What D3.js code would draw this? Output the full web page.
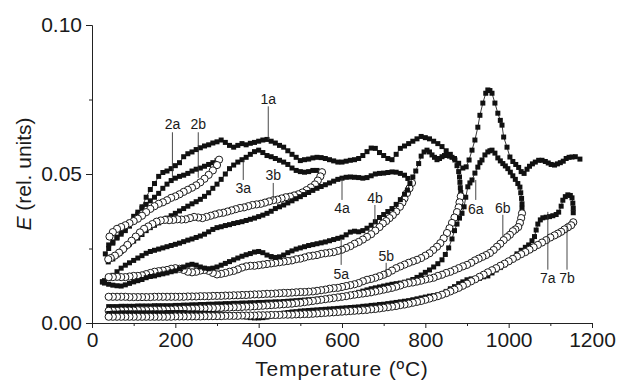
<!DOCTYPE html>
<html>
<head>
<meta charset="utf-8">
<script src="https://d3js.org/d3.v7.min.js"></script>
<style>
  body { margin: 0; background: #fff; }
  text { font-family: Arial, "Liberation Sans", sans-serif; fill: #1a1a1a; }
</style>
</head>
<body>
<svg id="chart" width="617" height="381"></svg>
<script>
// temperature (ºC), E (rel. units) pairs
// "a" curves = filled squares, "b" curves = open circles
var curve1a = [[40,.0262],[50,.0272],[60,.0285],[70,.0298],[80,.031],[90,.0325],[100,.0342],[110,.0365],[120,.039],[130,.0422],[140,.0448],[150,.0468],[160,.0492],[170,.0505],[180,.051],[190,.0518],[200,.0528],[210,.0538],[220,.0558],[230,.0568],[240,.0574],[250,.0582],[260,.0588],[270,.0594],[280,.0598],[290,.0604],[300,.0608],[310,.0614],[320,.0606],[330,.0596],[340,.059],[350,.0596],[360,.0602],[370,.0598],[380,.0603],[390,.0606],[400,.061],[410,.0614],[420,.0616],[430,.061],[440,.0604],[450,.0596],[460,.059],[470,.0578],[480,.0566],[490,.0556],[500,.0545],[510,.0548],[520,.055],[530,.0554],[540,.0556],[550,.0555],[560,.0552],[570,.0548],[580,.0544],[590,.054],[600,.054],[610,.0543],[620,.0546],[630,.0548],[640,.0552],[650,.0562],[660,.0575],[670,.0587],[680,.0586],[690,.0572],[700,.0562],[710,.0552],[720,.0548],[730,.0566],[740,.0586],[750,.0594],[760,.0602],[770,.061],[780,.0618],[790,.0626],[800,.0622],[810,.0618],[820,.061],[830,.0602],[840,.0592],[850,.0578],[860,.0566],[870,.0552],[880,.0536],[890,.052],[898,.0524],[905,.0547],[912,.058],[919,.0614],[926,.0657],[931,.0697],[938,.0738],[945,.0771],[950,.0782],[955,.078],[960,.0771],[967,.0738],[974,.0704],[980,.068],[984,.0664],[988,.0624],[996,.059],[1003,.0557],[1010,.0542],[1017,.0532],[1024,.0522],[1030,.0508],[1037,.0502],[1044,.0516],[1050,.0526],[1057,.0534],[1064,.054],[1072,.0546],[1080,.0546],[1088,.0542],[1095,.0537],[1102,.0532],[1110,.053],[1117,.0534],[1124,.0538],[1131,.0543],[1138,.0552],[1145,.0556],[1152,.0557],[1160,.0558],[1171,.055]];

var curve2a = [[32,.0232],[40,.025],[50,.0268],[60,.0288],[70,.0305],[80,.032],[90,.0338],[100,.0358],[110,.0372],[120,.0385],[130,.0398],[140,.041],[150,.0422],[160,.0435],[170,.0452],[180,.0466],[190,.0478],[200,.0486],[210,.0492],[220,.0496],[230,.0502],[240,.051],[250,.0516],[260,.052],[270,.0526],[280,.0532],[290,.0538],[300,.0545]];
var curve2b = [[305,.0548],[300,.053],[290,.0512],[280,.0497],[270,.0484],[260,.0472],[250,.0462],[240,.0454],[230,.0447],[220,.044],[210,.0432],[200,.0425],[190,.042],[180,.0412],[170,.0405],[160,.04],[150,.0392],[140,.0383],[130,.0372],[120,.036],[110,.035],[100,.0342],[90,.0335],[80,.0328],[70,.0322],[60,.0316],[50,.0305],[42,.029]];

var curve3a = [[39,.0205],[50,.0215],[60,.0228],[70,.024],[80,.0255],[90,.0265],[100,.0275],[110,.0285],[120,.0297],[130,.031],[140,.032],[150,.0328],[160,.0336],[170,.0345],[180,.0352],[190,.036],[200,.0368],[210,.0376],[220,.0384],[230,.0392],[240,.04],[250,.0407],[260,.0415],[270,.0425],[280,.0437],[290,.0452],[300,.0466],[310,.0482],[320,.05],[330,.0518],[340,.053],[350,.054],[360,.0548],[370,.0556],[380,.0566],[390,.0575],[400,.058],[410,.0572],[420,.0562],[430,.0558],[440,.0552],[450,.0546],[460,.054],[470,.0532],[480,.052],[490,.0512],[500,.0508],[510,.0506],[520,.0508],[530,.0512],[540,.0512],[550,.0502]];
var curve3b = [[552,.0506],[548,.0492],[542,.0478],[535,.0465],[525,.0455],[515,.0446],[505,.0438],[495,.0432],[485,.0428],[475,.0424],[465,.0422],[455,.0418],[445,.0414],[435,.0412],[425,.0408],[415,.0404],[405,.04],[395,.0398],[385,.0396],[375,.0392],[365,.0388],[355,.0386],[345,.0382],[335,.0378],[325,.0374],[315,.037],[305,.0368],[295,.0364],[285,.036],[275,.0356],[265,.0352],[255,.0354],[245,.0356],[235,.0352],[225,.0348],[215,.0347],[205,.0348],[195,.0346],[185,.0345],[175,.0346],[165,.0344],[155,.034],[145,.0332],[135,.0324],[125,.0316],[115,.0304],[105,.029],[95,.0276],[85,.0262],[75,.0248],[65,.0236],[55,.0226],[45,.0218],[39,.0214]];

var curve4a = [[25,.0138],[30,.0142],[40,.015],[50,.016],[60,.0172],[70,.0184],[80,.0194],[90,.0202],[100,.021],[110,.0218],[120,.0226],[130,.0234],[140,.024],[150,.0244],[160,.0248],[170,.0252],[180,.0256],[190,.026],[200,.0264],[210,.0268],[220,.0273],[230,.0278],[240,.0282],[250,.0287],[260,.0292],[270,.0298],[280,.0306],[290,.0314],[300,.032],[310,.0323],[320,.0327],[330,.033],[340,.0334],[350,.0337],[360,.034],[370,.0344],[380,.0348],[390,.0352],[400,.0357],[410,.0362],[420,.0368],[430,.0375],[440,.0384],[450,.039],[460,.0396],[470,.0403],[480,.041],[490,.0417],[500,.0424],[510,.0431],[520,.0438],[530,.0445],[540,.0452],[550,.0458],[560,.0464],[570,.047],[580,.0476],[590,.0482],[600,.0486],[610,.0489],[620,.049],[630,.0489],[640,.0488],[650,.0486],[660,.0488],[670,.0494],[680,.05],[690,.0502],[700,.0503],[710,.0505],[720,.0507],[730,.0506],[740,.0502],[750,.0496],[758,.0485],[765,.0474]];
var curve4b = [[768,.047],[762,.0452],[756,.0436],[750,.0418],[745,.0404],[739,.039],[730,.0374],[722,.0362],[714,.0352],[706,.0342],[698,.0334],[690,.0322],[680,.031],[670,.0298],[660,.0289],[650,.028],[640,.0272],[630,.0266],[620,.0258],[610,.0252],[600,.0246],[590,.0242],[580,.0238],[570,.0236],[560,.0234],[550,.0232],[540,.0228],[530,.0226],[520,.0224],[510,.022],[500,.0216],[490,.0214],[480,.021],[470,.0208],[460,.0206],[450,.0204],[440,.0202],[430,.02],[420,.0198],[410,.0196],[400,.0194],[390,.0192],[380,.0192],[370,.019],[360,.0186],[350,.018],[340,.0175],[330,.0172],[320,.0168],[310,.0165],[300,.0163],[290,.0168],[280,.0175],[270,.0178],[260,.0176],[250,.0172],[240,.017],[230,.0172],[220,.0178],[210,.0182],[200,.0184],[190,.0182],[180,.0178],[170,.0176],[160,.0174],[150,.0172],[140,.0168],[130,.0164],[120,.016],[110,.0158],[100,.0158],[90,.0156],[80,.0154],[70,.0154],[60,.0155],[50,.0154],[40,.0154]];

var curve5a = [[25,.0138],[30,.0134],[40,.013],[50,.0127],[60,.0125],[70,.0124],[80,.0128],[90,.0133],[100,.0138],[110,.0142],[120,.0146],[130,.0152],[140,.0156],[150,.0158],[160,.0162],[170,.0165],[180,.0168],[190,.0172],[200,.0175],[210,.0182],[220,.0188],[230,.0194],[240,.0197],[250,.0194],[260,.0188],[270,.0184],[280,.0182],[290,.0184],[300,.0188],[310,.0194],[320,.02],[330,.0206],[340,.0212],[350,.0218],[360,.0224],[370,.0229],[380,.0233],[390,.0238],[400,.024],[410,.0236],[420,.0228],[430,.0223],[440,.022],[450,.0222],[460,.0228],[470,.0236],[480,.0242],[490,.0248],[500,.0252],[510,.0256],[520,.026],[530,.0263],[540,.0266],[550,.0269],[560,.0272],[570,.0276],[580,.028],[590,.0284],[600,.0288],[610,.0296],[620,.0305],[630,.0308],[640,.0306],[650,.031],[660,.0318],[670,.0328],[680,.034],[690,.0354],[700,.0364],[710,.0374],[720,.0384],[730,.0398],[740,.0414],[750,.0432],[757,.0446],[763,.0468],[770,.049],[777,.051],[784,.0535],[790,.056],[797,.0574],[804,.058],[810,.0574],[816,.0564],[822,.0556],[828,.0548],[834,.0552],[840,.0558],[846,.0562],[852,.0564],[858,.056],[864,.0556],[871,.0547],[876,.0528],[880,.0508],[882,.049],[883,.0472],[884,.0454],[885,.0438]];
var curve5b = [[885,.0425],[882,.0405],[880,.0388],[876,.0372],[870,.0354],[864,.0336],[858,.0318],[852,.0302],[844,.0284],[836,.0268],[828,.0256],[819,.0245],[810,.0234],[800,.0226],[790,.0218],[780,.0212],[770,.0207],[760,.0202],[750,.0196],[740,.019],[730,.0184],[720,.0176],[710,.0168],[700,.0162],[690,.0157],[680,.0152],[670,.0148],[660,.0145],[650,.014],[640,.0134],[630,.013],[620,.0127],[610,.0124],[600,.0121],[590,.0118],[580,.0117],[570,.0115],[560,.0112],[550,.011],[540,.0108],[530,.0106],[520,.0105],[510,.0104],[500,.0104],[490,.0103],[480,.0102],[470,.0101],[460,.0101],[450,.01],[440,.0099],[430,.0098],[420,.0098],[410,.0097],[400,.0096],[390,.0096],[380,.0095],[370,.0094],[360,.0094],[350,.0093],[340,.0093],[330,.0092],[320,.0092],[310,.0091],[300,.0091],[290,.0091],[280,.009],[270,.009],[260,.009],[250,.0089],[240,.0089],[230,.0089],[220,.0088],[210,.0088],[200,.0088],[190,.0088],[180,.0088],[170,.0088],[160,.0088],[150,.0088],[140,.0087],[130,.0087],[120,.0087],[110,.0087],[100,.0087],[90,.0087],[80,.0088],[70,.0088],[60,.0088],[50,.0088],[40,.0088]];

var curve6a = [[40,.0055],[50,.0055],[60,.0055],[70,.0056],[80,.0056],[90,.0056],[100,.0056],[110,.0057],[120,.0057],[130,.0057],[140,.0057],[150,.0058],[160,.0058],[170,.0058],[180,.0058],[190,.0058],[200,.0059],[210,.0059],[220,.006],[230,.006],[240,.0061],[250,.0061],[260,.0062],[270,.0062],[280,.0063],[290,.0063],[300,.0064],[310,.0064],[320,.0065],[330,.0065],[340,.0066],[350,.0066],[360,.0067],[370,.0067],[380,.0068],[390,.0068],[400,.0069],[410,.0069],[420,.007],[430,.007],[440,.0071],[450,.0071],[460,.0072],[470,.0073],[480,.0074],[490,.0075],[500,.0076],[510,.0077],[520,.0078],[530,.0079],[540,.008],[550,.0081],[560,.0082],[570,.0083],[580,.0085],[590,.0087],[600,.0089],[610,.0092],[620,.0095],[630,.0099],[640,.0103],[650,.0107],[660,.0111],[670,.0115],[680,.0118],[690,.0121],[700,.0124],[710,.0127],[720,.013],[730,.0132],[740,.0134],[750,.0137],[760,.0141],[770,.0146],[780,.0153],[790,.0161],[800,.017],[810,.0178],[820,.0188],[830,.0199],[840,.0212],[848,.023],[856,.0252],[864,.0282],[870,.031],[876,.0332],[882,.0352],[888,.0368],[893,.039],[897,.0422],[902,.0457],[907,.047],[912,.048],[919,.0503],[926,.0523],[931,.0538],[936,.0547],[943,.0564],[950,.0574],[955,.0578],[960,.058],[967,.057],[974,.0554],[980,.0544],[986,.0535],[992,.0527],[998,.0518],[1004,.0506],[1010,.0494],[1016,.0482],[1022,.0468],[1027,.0456],[1029,.0437],[1031,.0418],[1032,.04],[1032,.0385]];
var curve6b = [[1032,.0368],[1030,.0352],[1027,.0336],[1023,.0322],[1016,.0314],[1010,.0308],[1003,.0296],[996,.0288],[988,.0278],[980,.0266],[972,.0256],[964,.0245],[955,.0235],[946,.0228],[937,.0222],[928,.0216],[919,.021],[910,.0202],[900,.0195],[890,.019],[880,.0184],[870,.0178],[860,.0172],[850,.0168],[840,.0162],[830,.0158],[820,.0152],[810,.0149],[800,.0146],[790,.0142],[780,.0139],[770,.0136],[760,.0134],[750,.0131],[740,.0126],[730,.0122],[720,.0118],[710,.0115],[700,.0112],[690,.0109],[680,.0106],[670,.0103],[660,.0101],[650,.0099],[640,.0097],[630,.0095],[620,.0093],[610,.009],[600,.0088],[590,.0086],[580,.0084],[570,.0082],[560,.008],[550,.0078],[540,.0076],[530,.0074],[520,.0072],[510,.007],[500,.0068],[490,.0067],[480,.0065],[470,.0064],[460,.0063],[450,.0062],[440,.0061],[430,.006],[420,.0059],[410,.0058],[400,.0057],[390,.0056],[380,.0055],[370,.0055],[360,.0054],[350,.0053],[340,.0053],[330,.0052],[320,.0052],[310,.0051],[300,.0051],[290,.005],[280,.005],[270,.0049],[260,.0049],[250,.0048],[240,.0048],[230,.0047],[220,.0047],[210,.0046],[200,.0046],[190,.0045],[180,.0045],[170,.0045],[160,.0044],[150,.0044],[140,.0044],[130,.0043],[120,.0043],[110,.0043],[100,.0042],[90,.0042],[80,.0042],[70,.0042],[60,.0041],[50,.0041],[40,.0041]];

var curve7a = [[40,.0032],[50,.0033],[60,.0033],[70,.0034],[80,.0034],[90,.0034],[100,.0034],[110,.0034],[120,.0034],[130,.0034],[140,.0034],[150,.0034],[160,.0034],[170,.0034],[180,.0035],[190,.0035],[200,.0035],[210,.0035],[220,.0035],[230,.0034],[240,.0034],[250,.0034],[260,.0033],[270,.0033],[280,.0032],[290,.0032],[300,.0031],[310,.003],[320,.0029],[330,.0028],[340,.0026],[350,.0024],[360,.0022],[370,.002],[380,.0018],[390,.0017],[400,.0017],[410,.0018],[420,.002],[430,.0024],[440,.0028],[450,.0031],[460,.0033],[470,.0035],[480,.0037],[490,.0038],[500,.004],[510,.0041],[520,.0042],[530,.0043],[540,.0044],[550,.0045],[560,.0046],[570,.0047],[580,.0048],[590,.0049],[600,.005],[610,.0051],[620,.0052],[630,.0053],[640,.0054],[650,.0056],[660,.0057],[670,.0059],[680,.006],[690,.0062],[700,.0063],[710,.0065],[720,.0067],[730,.0069],[740,.0071],[750,.0073],[760,.0075],[770,.0078],[780,.0081],[790,.0084],[800,.0087],[810,.009],[820,.0092],[830,.0095],[840,.0098],[850,.0106],[860,.0115],[870,.0122],[880,.0132],[890,.0138],[900,.0145],[910,.0148],[920,.0146],[930,.015],[940,.0155],[950,.0158],[960,.0168],[970,.0178],[980,.0186],[990,.0195],[1000,.0205],[1010,.0218],[1020,.0232],[1030,.0244],[1040,.0254],[1048,.0262],[1056,.0276],[1062,.029],[1066,.0312],[1070,.0332],[1076,.0346],[1082,.0353],[1090,.0355],[1098,.0357],[1106,.036],[1114,.0364],[1120,.0372],[1126,.0392],[1130,.0412],[1136,.0424],[1142,.043],[1148,.0428],[1152,.042],[1154,.0402],[1155,.0385],[1155,.037]];
var curve7b = [[1155,.0338],[1150,.0328],[1142,.0321],[1134,.0314],[1126,.0306],[1118,.03],[1110,.0294],[1100,.0287],[1090,.0278],[1080,.027],[1070,.0262],[1060,.0254],[1050,.0246],[1040,.0238],[1030,.0231],[1020,.0223],[1010,.0215],[1000,.0207],[990,.0199],[980,.0192],[970,.0184],[960,.0177],[950,.017],[940,.0162],[930,.0155],[920,.0147],[910,.014],[900,.0132],[890,.0125],[880,.0118],[870,.0112],[860,.0106],[850,.01],[840,.0095],[830,.009],[820,.0086],[810,.0082],[800,.0078],[790,.0074],[780,.0071],[770,.0068],[760,.0065],[750,.0062],[740,.006],[730,.0057],[720,.0055],[710,.0053],[700,.0051],[690,.0049],[680,.0047],[670,.0046],[660,.0044],[650,.0043],[640,.0042],[630,.0041],[620,.004],[610,.0039],[600,.0038],[590,.0037],[580,.0036],[570,.0035],[560,.0034],[550,.0033],[540,.0032],[530,.0031],[520,.003],[510,.003],[500,.0029],[490,.0029],[480,.0028],[470,.0028],[460,.0028],[450,.0027],[440,.0027],[430,.0027],[420,.0026],[410,.0026],[400,.0026],[390,.0025],[380,.0025],[370,.0025],[360,.0025],[350,.0024],[340,.0024],[330,.0024],[320,.0024],[310,.0023],[300,.0023],[290,.0023],[280,.0023],[270,.0023],[260,.0022],[250,.0022],[240,.0022],[230,.0022],[220,.0022],[210,.0022],[200,.0022],[190,.0021],[180,.0021],[170,.0021],[160,.0021],[150,.0021],[140,.0021],[130,.0021],[120,.0021],[110,.0021],[100,.0021],[90,.0021],[80,.0021],[70,.0021],[60,.0021],[50,.0021],[40,.0021]];

// curve labels: text, temperature of leader line, E of text centre, E at both ends of the leader
var labelNames = ["1a","2a","2b","3a","3b","4a","4b","5a","5b","6a","6b","7a","7b"];
var labelTemps = [423, 193, 255, 363, 435, 600, 679, 598, 706, 921, 986, 1094, 1140];
var labelTextE = [0.0751, 0.0667, 0.0667, 0.0453, 0.0497, 0.0386, 0.0419, 0.0165, 0.0225, 0.0383, 0.0386, 0.0152, 0.0152];
var leaderFrom = [0.0727, 0.0640, 0.0640, 0.0480, 0.0470, 0.0413, 0.0396, 0.0195, 0.0202, 0.0413, 0.0363, 0.0179, 0.0179];
var leaderTo   = [0.0614, 0.0487, 0.0487, 0.0547, 0.0413, 0.0486, 0.0330, 0.0279, 0.0155, 0.0480, 0.0289, 0.0373, 0.0336];

var xTicks = [0, 200, 400, 600, 800, 1000, 1200];
var xMinor = [100, 300, 500, 700, 900, 1100];
var yTicks = [0, 0.05, 0.10];
var yMinor = [0.025, 0.075];

var series = [
  {data: curve1a, mark: "square"},
  {data: curve2a, mark: "square"},
  {data: curve2b, mark: "circle"},
  {data: curve3a, mark: "square"},
  {data: curve3b, mark: "circle"},
  {data: curve4a, mark: "square"},
  {data: curve4b, mark: "circle"},
  {data: curve5a, mark: "square"},
  {data: curve5b, mark: "circle"},
  {data: curve6a, mark: "square"},
  {data: curve6b, mark: "circle"},
  {data: curve7a, mark: "square"},
  {data: curve7b, mark: "circle"}
];

var svg = d3.select("#chart");

var margin = {top: 25, right: 25, bottom: 58, left: 92};
var width = 617 - margin.left - margin.right;
var height = 381 - margin.top - margin.bottom;

var x = d3.scaleLinear().domain([0, 1200]).range([0, width]);
var y = d3.scaleLinear().domain([0, 0.10]).range([height, 0]);

var chartGroup = svg.append("g")
  .attr("transform", `translate(${margin.left}, ${margin.top})`);

// data first, axes drawn on top afterwards
var line = d3.line().x(d => x(d[0])).y(d => y(d[1]));

series.forEach(function(s) {
  var g = chartGroup.append("g");
  g.append("path")
    .datum(s.data)
    .attr("d", line)
    .attr("fill", "none")
    .attr("stroke", "#222")
    .attr("stroke-width", 0.9);

  if (s.mark === "square") {
    g.selectAll("rect")
      .data(s.data)
      .enter()
      .append("rect")
      .attr("x", d => x(d[0]) - 2.5)
      .attr("y", d => y(d[1]) - 2.5)
      .attr("width", 5)
      .attr("height", 5)
      .attr("fill", "#111");
  } else {
    g.selectAll("circle")
      .data(s.data)
      .enter()
      .append("circle")
      .attr("cx", d => x(d[0]))
      .attr("cy", d => y(d[1]))
      .attr("r", 3.6)
      .attr("fill", "#fff")
      .attr("stroke", "#1a1a1a")
      .attr("stroke-width", 1);
  }
});

// leader lines and curve labels
labelNames.forEach(function(name, i) {
  chartGroup.append("line")
    .attr("x1", x(labelTemps[i]))
    .attr("x2", x(labelTemps[i]))
    .attr("y1", y(leaderFrom[i]))
    .attr("y2", y(leaderTo[i]))
    .attr("stroke", "#333")
    .attr("stroke-width", 0.9);
  chartGroup.append("text")
    .attr("x", x(labelTemps[i]))
    .attr("y", y(labelTextE[i]))
    .attr("dy", "0.36em")
    .attr("text-anchor", "middle")
    .attr("font-size", "14px")
    .text(name);
});

// axes
var bottomAxis = d3.axisBottom(x).tickValues(xTicks).tickSize(5).tickSizeOuter(0).tickPadding(4).tickFormat(d3.format("d"));
var bottomMinor = d3.axisBottom(x).tickValues(xMinor).tickSize(3).tickSizeOuter(0).tickFormat("");
var leftAxis = d3.axisLeft(y).tickValues(yTicks).tickSize(6).tickSizeOuter(0).tickPadding(4).tickFormat(d3.format(".2f"));
var leftMinor = d3.axisLeft(y).tickValues(yMinor).tickSize(3).tickSizeOuter(0).tickFormat("");

chartGroup.append("g").attr("transform", `translate(0, ${height})`).call(bottomMinor);
chartGroup.append("g").attr("transform", `translate(0, ${height})`).call(bottomAxis)
  .selectAll("text").attr("font-size", "21px");
chartGroup.append("g").call(leftMinor);
chartGroup.append("g").call(leftAxis)
  .selectAll("text").attr("font-size", "21px");

chartGroup.selectAll(".domain, .tick line").attr("stroke", "#222").attr("stroke-width", 1);
chartGroup.selectAll(".tick text").attr("fill", "#1a1a1a").attr("font-family", "Arial, 'Liberation Sans', sans-serif");

// axis titles
svg.append("text")
  .attr("x", margin.left + width / 2)
  .attr("y", 376)
  .attr("text-anchor", "middle")
  .attr("font-size", "21px")
  .attr("letter-spacing", "0.8px")
  .text("Temperature (ºC)");

var yTitle = svg.append("text")
  .attr("transform", `translate(31, ${margin.top + height / 2}) rotate(-90)`)
  .attr("text-anchor", "middle")
  .attr("font-size", "21px");
yTitle.append("tspan").attr("font-style", "italic").text("E");
yTitle.append("tspan").text(" (rel. units)");
</script>
</body>
</html>
